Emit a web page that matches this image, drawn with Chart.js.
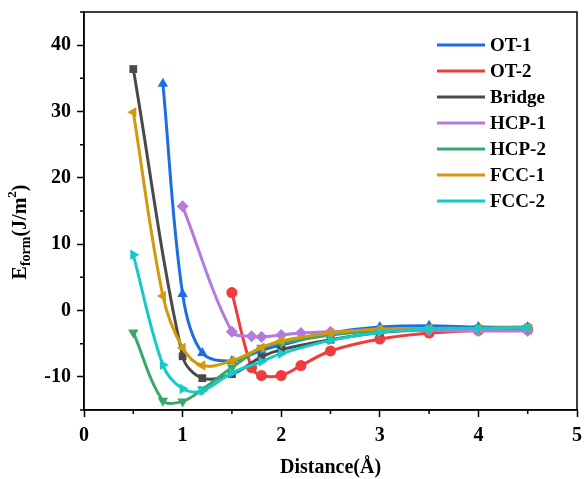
<!DOCTYPE html>
<html>
<head>
<meta charset="utf-8">
<script src="https://cdn.jsdelivr.net/npm/chart.js@4.4.1/dist/chart.umd.min.js"></script>
<style>
  html, body { margin: 0; padding: 0; background: #fff; }
  #wrap { width: 585px; height: 479px; position: relative; }
</style>
</head>
<body>
<div id="wrap"><canvas id="chartEnergia"></canvas></div>
<script>
// series names and colours
const nombres = ['OT-1', 'OT-2', 'Bridge', 'HCP-1', 'HCP-2', 'FCC-1', 'FCC-2'];
const colores = ['#1c6fde', '#f03c3c', '#4a4a4a', '#b27bdc', '#35a86a', '#d09a0c', '#17c9c9'];

// distances (Å) and formation energies (J/m2)
const xOT1 = [0.8, 1.0, 1.2, 1.5, 1.8, 2.0, 2.5, 3.0, 3.5, 4.0, 4.5];
const yOT1 = [34.2, 2.5, -6.4, -7.6, -6.0, -5.2, -3.4, -2.5, -2.3, -2.5, -2.5];

const xOT2 = [1.5, 1.7, 1.8, 2.0, 2.2, 2.5, 3.0, 3.5, 4.0, 4.5];
const yOT2 = [2.7, -8.6, -9.8, -9.8, -8.3, -6.1, -4.3, -3.4, -3.0, -2.9];

const xBridge = [0.5, 1.0, 1.2, 1.5, 1.8, 2.0, 2.5, 3.0, 3.5, 4.0, 4.5];
const yBridge = [36.4, -6.9, -10.2, -9.6, -7.0, -5.9, -4.4, -3.3, -2.9, -2.8, -2.7];

const xHCP1 = [1.0, 1.5, 1.7, 1.8, 2.0, 2.2, 2.5, 3.0, 3.5, 4.0, 4.5];
const yHCP1 = [15.7, -3.2, -3.9, -4.0, -3.7, -3.4, -3.2, -3.0, -3.0, -3.1, -3.1];

const xHCP2 = [0.5, 0.8, 1.0, 1.2, 1.5, 1.8, 2.0, 2.5, 3.0, 3.5, 4.0, 4.5];
const yHCP2 = [-3.3, -13.6, -13.7, -11.9, -8.6, -5.6, -4.9, -3.7, -3.0, -2.7, -2.7, -2.6];

const xFCC1 = [0.5, 0.8, 1.0, 1.2, 1.5, 1.8, 2.0, 2.5, 3.0, 3.5, 4.0, 4.5];
const yFCC1 = [29.9, 2.2, -5.6, -8.3, -7.6, -5.6, -4.6, -3.4, -2.8, -2.7, -2.7, -2.6];

const xFCC2 = [0.5, 0.8, 1.0, 1.2, 1.5, 1.8, 2.0, 2.5, 3.0, 3.5, 4.0, 4.5];
const yFCC2 = [8.4, -8.2, -11.8, -12.1, -9.4, -7.7, -6.5, -4.5, -3.3, -2.8, -2.7, -2.6];

// tick labels
const ticksX = [0, 1, 2, 3, 4, 5];
const ticksY = [-10, 0, 10, 20, 30, 40];
const menoresX = [0.5, 1.5, 2.5, 3.5, 4.5];
const menoresY = [-15, -5, 5, 15, 25, 35, 45];

const xs = [xOT1, xOT2, xBridge, xHCP1, xHCP2, xFCC1, xFCC2];
const ys = [yOT1, yOT2, yBridge, yHCP1, yHCP2, yFCC1, yFCC2];
const estilos = ['triangle', 'circle', 'rect', 'rectRot', 'triangle', 'triangle', 'triangle'];
const giros = [0, 0, 0, 0, 180, 270, 90];
const radios = [6, 5.5, 5.5, 6, 6, 6, 6];

const fuente = "'Liberation Serif', 'Times New Roman', serif";

const datasets = nombres.map((n, i) => ({
    label: n,
    data: xs[i].map((x, j) => ({ x: x, y: ys[i][j] })),
    borderColor: colores[i],
    backgroundColor: colores[i],
    borderWidth: 3,
    pointStyle: estilos[i],
    pointRotation: giros[i],
    pointRadius: radios[i],
    pointBorderWidth: 0,
    tension: 0.35,
    order: nombres.length - i
}));

// ticks menores, marco, leyenda y titulo del eje y
const extras = {
    id: 'extras',
    afterDraw(chart) {
        const ctx = chart.ctx;
        const a = chart.chartArea;
        const sx = chart.scales.x, sy = chart.scales.y;
        ctx.save();
        ctx.strokeStyle = '#000';
        ctx.lineWidth = 1.5;
        ctx.beginPath();
        menoresX.forEach(v => {
            const p = sx.getPixelForValue(v);
            ctx.moveTo(p, a.bottom); ctx.lineTo(p, a.bottom + 4);
        });
        menoresY.forEach(v => {
            const p = sy.getPixelForValue(v);
            ctx.moveTo(a.left, p); ctx.lineTo(a.left - 4, p);
        });
        ctx.stroke();
        ctx.strokeRect(a.left, a.top, a.right - a.left, a.bottom - a.top);

        // leyenda
        ctx.font = 'bold 19px ' + fuente;
        ctx.textBaseline = 'middle';
        ctx.textAlign = 'left';
        nombres.forEach((n, i) => {
            const y = 45 + i * 26;
            ctx.strokeStyle = colores[i];
            ctx.lineWidth = 3;
            ctx.beginPath();
            ctx.moveTo(437, y); ctx.lineTo(485, y);
            ctx.stroke();
            ctx.fillStyle = '#000';
            ctx.fillText(n, 490, y + 1);
        });

        // titulo del eje y: E_form(J/m^2)
        ctx.translate(21, 232);
        ctx.rotate(-Math.PI / 2);
        ctx.fillStyle = '#000';
        const partes = [['E', 20, 0], ['form', 14, 5], ['(J/m', 20, 0], ['2', 13, -8], [')', 20, 0]];
        let total = 0;
        partes.forEach(p => { ctx.font = 'bold ' + p[1] + 'px ' + fuente; total += ctx.measureText(p[0]).width; });
        let x = -total / 2;
        partes.forEach(p => {
            ctx.font = 'bold ' + p[1] + 'px ' + fuente;
            ctx.fillText(p[0], x, p[2]);
            x += ctx.measureText(p[0]).width;
        });
        ctx.restore();
    }
};

const ctxEnergia = document.getElementById('chartEnergia').getContext('2d');
const chartEnergia = new Chart(ctxEnergia, {
    type: 'line',
    data: { datasets: datasets },
    plugins: [extras],
    options: {
        responsive: true,
        maintainAspectRatio: false,
        animation: false,
        layout: { padding: { left: 0, right: 8, top: 12, bottom: 0 } },
        plugins: { legend: { display: false }, tooltip: { enabled: false } },
        scales: {
            x: {
                type: 'linear',
                min: 0, max: 5,
                afterBuildTicks: s => { s.ticks = ticksX.map(v => ({ value: v })); },
                afterFit: s => { s.height = 69; s.paddingLeft = 0; s.paddingRight = 0; },
                grid: { drawOnChartArea: false, tickLength: 7, tickColor: '#000', tickWidth: 1.5 },
                border: { color: '#000', width: 1.5 },
                ticks: { color: '#000', font: { family: fuente, size: 20, weight: 'bold' }, padding: 7, maxRotation: 0 },
                title: { display: true, text: 'Distance(Å)', color: '#000', font: { family: fuente, size: 20, weight: 'bold' }, padding: { top: 4, bottom: -1 } }
            },
            y: {
                type: 'linear',
                min: -15, max: 45,
                afterBuildTicks: s => { s.ticks = ticksY.map(v => ({ value: v })); },
                afterFit: s => { s.width = 84; s.paddingTop = 0; s.paddingBottom = 0; },
                grid: { drawOnChartArea: false, tickLength: 7, tickColor: '#000', tickWidth: 1.5 },
                border: { color: '#000', width: 1.5 },
                ticks: { color: '#000', font: { family: fuente, size: 20, weight: 'bold' }, padding: 6 }
            }
        }
    }
});
</script>
</body>
</html>
